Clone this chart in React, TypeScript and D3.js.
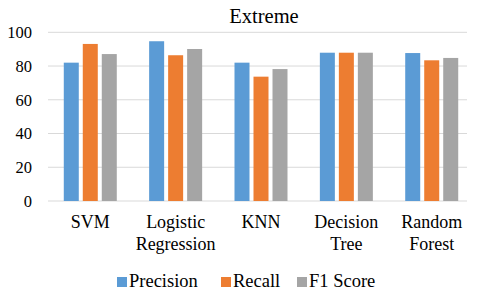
import React from "react";
import * as d3 from "d3";

const categories = ["SVM", "Logistic Regression", "KNN", "Decision Tree", "Random Forest"];
const seriesNames = ["Precision", "Recall", "F1 Score"];
const precision = [82, 94.7, 82, 87.9, 87.7];
const recall = [93.1, 86.4, 73.7, 87.9, 83.4];
const f1Score = [87.1, 90.1, 78.2, 87.9, 84.8];
const yTicks = [0, 20, 40, 60, 80, 100];
const colors = ["#5B9BD5", "#ED7D31", "#A5A5A5"];

const W = 480;
const H = 295;
const font = "Liberation Serif, Times New Roman, Times, serif";

const App = () => {
  const values = [precision, recall, f1Score];

  const x = d3.scaleBand<string>().domain(categories).range([47.6, 474.4]).padding(0);
  const inner = d3.scaleBand<string>().domain(seriesNames).range([0, 53]).paddingInner(0.2105);
  const y = d3.scaleLinear().domain([0, 100]).range([201, 32.3]);
  const color = d3.scaleOrdinal<string, string>().domain(seriesNames).range(colors);

  const gridLeft = 48;
  const gridRight = 467;

  const legendItems = [
    { name: "Precision", x: 117 },
    { name: "Recall", x: 221 },
    { name: "F1 Score", x: 297 },
  ];

  const txt = (size: number) => ({ fontFamily: font, fontSize: size, fill: "#000" });

  return (
    <svg width={W} height={H} style={{ position: "absolute", left: 0, top: 0, background: "#fff", fontFamily: font }}>
      <text x={264} y={23} textAnchor="middle" style={txt(20.5)}>
        Extreme
      </text>

      {yTicks.map((t) => (
        <g key={t}>
          <line x1={gridLeft} x2={gridRight} y1={y(t)} y2={y(t)} stroke="#D9D9D9" strokeWidth={1} />
          <text x={32} y={y(t)} dy="0.35em" textAnchor="end" style={txt(16.5)}>
            {t}
          </text>
        </g>
      ))}

      {categories.map((c, ci) => {
        const cx = (x(c) as number) + x.bandwidth() / 2;
        const gx = cx - 26.5;
        return (
          <g key={c}>
            {seriesNames.map((s, si) => (
              <rect
                key={s}
                x={gx + (inner(s) as number)}
                y={y(values[si][ci])}
                width={inner.bandwidth()}
                height={y(0) - y(values[si][ci])}
                fill={color(s)}
              />
            ))}
            {c.split(" ").map((line, li) => (
              <text key={li} x={cx} y={228 + li * 21.5} textAnchor="middle" style={txt(18)}>
                {line}
              </text>
            ))}
          </g>
        );
      })}

      {legendItems.map((item) => (
        <g key={item.name}>
          <rect x={item.x} y={277} width={10} height={10} fill={color(item.name)} />
          <text x={item.x + 12} y={287} style={txt(18.5)}>
            {item.name}
          </text>
        </g>
      ))}
    </svg>
  );
};

export default App;
